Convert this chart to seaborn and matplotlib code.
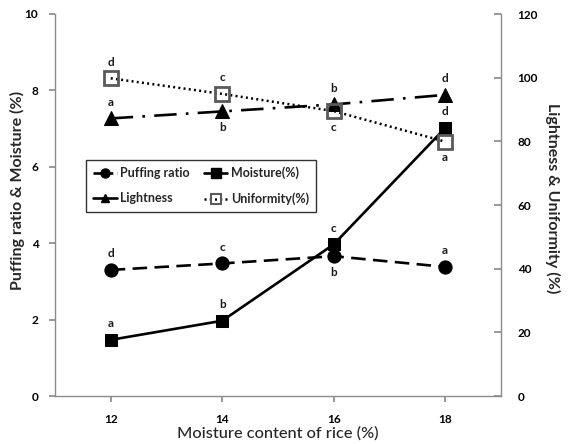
import matplotlib
matplotlib.use("Agg")
import matplotlib.pyplot as plt
import seaborn as sns
import pandas as pd
from matplotlib.lines import Line2D

# ---- data ----
moisture_content = [12, 14, 16, 18]
puffing_ratio = [3.30, 3.47, 3.66, 3.38]
moisture_pct = [1.47, 1.97, 3.97, 7.02]
lightness = [87.2, 89.4, 91.6, 94.6]
uniformity = [99.8, 94.9, 89.5, 79.9]

puffing_letters = ["d", "c", "b", "a"]
moisture_letters = ["a", "b", "c", "d"]
lightness_letters = ["a", "b", "b", "d"]
uniformity_letters = ["d", "c", "c", "a"]

puffing_side = [1, 1, -1, 1]
moisture_side = [1, 1, 1, 1]
lightness_side = [1, -1, 1, 1]
uniformity_side = [1, 1, -1, -1]

x_ticks = [12, 14, 16, 18]
left_ticks = [0, 2, 4, 6, 8, 10]
right_ticks = [0, 20, 40, 60, 80, 100, 120]

x_label = "Moisture content of rice (%)"
left_label = "Puffing ratio & Moisture (%)"
right_label = "Lightness & Uniformity (%)"

# ---- style ----
sns.set_theme(style="white")
plt.rcParams["font.family"] = ["Lato", "DejaVu Sans"]
spine_c = "#8c8c8c"

fig = plt.figure(figsize=(5.69, 4.44), dpi=100)
ax = fig.add_axes([55 / 569, 48 / 444, 446 / 569, 382 / 444])
ax2 = ax.twinx()

df = pd.DataFrame({"x": moisture_content, "puff": puffing_ratio, "moist": moisture_pct,
                   "light": lightness, "unif": uniformity})

lw = 1.9
puff_ls = (0, (5.5, 2.8))
light_ls = (0, (8.5, 3.5, 1, 3.5))
unif_ls = (0, (0.8, 1.3))
sns.lineplot(data=df, x="x", y="puff", ax=ax, color="black", lw=lw,
             linestyle=puff_ls, marker="o", markersize=9.5, markeredgecolor="black")
sns.lineplot(data=df, x="x", y="moist", ax=ax, color="black", lw=lw,
             linestyle="-", marker="s", markersize=9, markeredgecolor="black")
sns.lineplot(data=df, x="x", y="light", ax=ax2, color="black", lw=lw,
             linestyle=light_ls, marker="^", markersize=10, markeredgecolor="black")
sns.lineplot(data=df, x="x", y="unif", ax=ax2, color="black", lw=1.8,
             linestyle=unif_ls, marker="s", markersize=9.5,
             markerfacecolor="none", markeredgecolor="#5a5a5a", markeredgewidth=2)

def letters(axis, xs, ys, labs, sides):
    for xv, yv, lab, s in zip(xs, ys, labs, sides):
        axis.annotate(lab, (xv, yv), xytext=(0, 11.5 * s), textcoords="offset points",
                      ha="center", va="center", fontsize=8.5, fontweight="bold",
                      color="#1a1a1a")

letters(ax, moisture_content, puffing_ratio, puffing_letters, puffing_side)
letters(ax, moisture_content, moisture_pct, moisture_letters, moisture_side)
letters(ax2, moisture_content, lightness, lightness_letters, lightness_side)
letters(ax2, moisture_content, uniformity, uniformity_letters, uniformity_side)

ax.set_xlim(11, 19)
ax.set_ylim(0, 10)
ax2.set_ylim(0, 120)
ax.set_xticks(x_ticks)
ax.set_yticks(left_ticks)
ax2.set_yticks(right_ticks)
ax.set_xticklabels([str(v) for v in x_ticks], fontweight="bold", fontsize=8.5)
ax.set_yticklabels([str(v) for v in left_ticks], fontweight="bold", fontsize=8.5)
ax2.set_yticklabels([str(v) for v in right_ticks], fontweight="bold", fontsize=8.5)

for a in (ax, ax2):
    a.spines["top"].set_visible(False)
    for s in ("left", "right", "bottom"):
        a.spines[s].set_color(spine_c)
        a.spines[s].set_linewidth(1)
ax.spines["right"].set_visible(False)
ax2.spines["left"].set_visible(False)
ax2.spines["bottom"].set_visible(False)

ax.tick_params(axis="y", which="major", left=True, direction="out", length=4,
               color=spine_c, pad=8, labelcolor="black")
ax.tick_params(axis="x", which="major", bottom=True, direction="out", length=4,
               color=spine_c, pad=9, labelcolor="black")
ax2.tick_params(axis="y", which="major", right=True, direction="in", length=5,
                color=spine_c, pad=12, labelcolor="black")

ax.set_xlabel(x_label, fontsize=11.8, fontweight="medium")
ax.xaxis.set_label_coords(0.5, (396 - 433) / 382)
ax.xaxis.label.set_va("center")
ax.set_ylabel(left_label, fontsize=11.5, fontweight="bold", va="center")
ax.yaxis.set_label_coords((17 - 55) / 446, (396 - 190) / 382)
ax2.set_ylabel(right_label, fontsize=11.5, fontweight="bold", rotation=270, va="center")
ax2.yaxis.set_label_coords((553 - 55) / 446, (396 - 198) / 382)

handles = [
    Line2D([], [], color="black", lw=lw, linestyle=(0, (3, 1.5)), marker="o", markersize=6.5),
    Line2D([], [], color="black", lw=lw, linestyle="-", marker="^", markersize=6),
    Line2D([], [], color="black", lw=lw, linestyle="-", marker="s", markersize=6.5),
    Line2D([], [], color="black", lw=1.8, linestyle=unif_ls, marker="s", markersize=6.5,
           markerfacecolor="none", markeredgecolor="#5a5a5a", markeredgewidth=1.5),
]
labels = ["Puffing ratio", "Lightness", "Moisture(%)", "Uniformity(%)"]
leg = ax2.legend(handles, labels, ncol=2, loc="upper left", bbox_to_anchor=(0.0695, 0.618),
                 borderaxespad=0, frameon=True, fancybox=False, edgecolor="black",
                 prop={"weight": "bold", "size": 9}, handlelength=1.9, columnspacing=1.1,
                 labelspacing=1.05, borderpad=0.55, handletextpad=0.3)
leg.get_frame().set_linewidth(1)

fig.savefig("out.png", dpi=100)
